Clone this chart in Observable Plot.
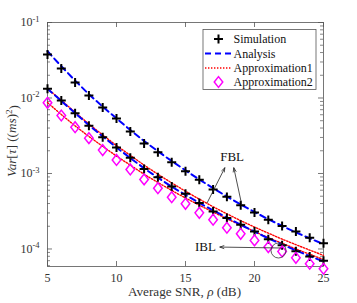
<!DOCTYPE html>
<html><head><meta charset="utf-8">
<script src="https://cdn.jsdelivr.net/npm/d3@7"></script>
<script src="https://cdn.jsdelivr.net/npm/@observablehq/plot@0.6"></script>
<style>body{margin:0;background:#fff}#chart svg{display:block}</style>
</head><body><div id="chart"></div>
<script>
// ---------- data ----------
const snr = [5,6,7,8,9,10,11,12,13,14,15,16,17,18,19,20,21,22,23,24,25];
const fblSim = [3.77e-2,2.46e-2,1.60e-2,1.08e-2,7.48e-3,5.35e-3,3.60e-3,2.49e-3,1.91e-3,1.41e-3,1.07e-3,8.26e-4,6.14e-4,4.90e-4,3.80e-4,3.05e-4,2.43e-4,2.02e-4,1.70e-4,1.41e-4,1.19e-4];
const fblAnalysis = [4.17e-2,2.63e-2,1.70e-2,1.12e-2,7.67e-3,5.37e-3,3.76e-3,2.69e-3,1.97e-3,1.46e-3,1.10e-3,8.32e-4,6.38e-4,4.95e-4,3.89e-4,3.09e-4,2.48e-4,2.02e-4,1.66e-4,1.38e-4,1.16e-4];
const iblSim = [1.324e-2,9.27e-3,6.30e-3,4.29e-3,3.03e-3,2.21e-3,1.62e-3,1.15e-3,8.93e-4,6.73e-4,5.38e-4,4.07e-4,3.14e-4,2.57e-4,2.09e-4,1.71e-4,1.35e-4,1.12e-4,9.33e-5,7.96e-5,7.00e-5];
const iblAnalysis = [1.33e-2,9.12e-3,6.31e-3,4.37e-3,3.09e-3,2.21e-3,1.60e-3,1.17e-3,8.81e-4,6.68e-4,5.19e-4,4.07e-4,3.24e-4,2.60e-4,2.09e-4,1.70e-4,1.38e-4,1.15e-4,9.55e-5,8.04e-5,6.84e-5];
const approx1Upper = [1.33e-2,9.33e-3,6.46e-3,4.52e-3,3.24e-3,2.34e-3,1.74e-3,1.29e-3,9.77e-4,7.50e-4,5.82e-4,4.57e-4,3.63e-4,2.92e-4,2.37e-4,1.95e-4,1.62e-4,1.35e-4,1.14e-4,9.66e-5,8.22e-5];
const approx1Lower = [8.71e-3,6.03e-3,4.27e-3,3.09e-3,2.29e-3,1.70e-3,1.29e-3,9.77e-4,7.59e-4,5.96e-4,4.73e-4,3.80e-4,3.09e-4,2.51e-4,2.07e-4,1.70e-4,1.41e-4,1.19e-4,1.00e-4,8.51e-5,7.24e-5];
const approx2 = [8.63e-3,5.86e-3,4.10e-3,2.94e-3,2.04e-3,1.51e-3,1.13e-3,8.34e-4,6.38e-4,4.85e-4,3.97e-4,3.01e-4,2.44e-4,1.91e-4,1.59e-4,1.30e-4,1.06e-4,9.27e-5,7.64e-5,6.37e-5,5.47e-5];

const xTicks = [5,10,15,20,25];
const yMajor = [1e-4,1e-3,1e-2,1e-1];
const yMinor = [6e-5,7e-5,8e-5,9e-5,2e-4,3e-4,4e-4,5e-4,6e-4,7e-4,8e-4,9e-4,2e-3,3e-3,4e-3,5e-3,6e-3,7e-3,8e-3,9e-3,2e-2,3e-2,4e-2,5e-2,6e-2,7e-2,8e-2,9e-2];
const legendLabels = ["Simulation","Analysis","Approximation1","Approximation2"];

// annotations (data coordinates)
const fblLabel = [{x:18.38, y:1.68e-3, t:"FBL"}];
const fblArrows = [{x1:16.57,y1:4.09e-4,x2:17.85,y2:1.19e-3},{x1:19.06,y1:3.97e-4,x2:18.5,y2:1.19e-3}];
const iblLabel = [{x:16.45, y:1.06e-4, t:"IBL"}];
const iblArrows = [{x1:21.88,y1:1.03e-4,x2:17.49,y2:1.06e-4}];
const iblCircle = [{x:21.74, y:9.55e-5}];

// ---------- helpers ----------
const rows = arr => snr.map((s,i)=>({snr:s, v:arr[i]}));
const tallDiamond = {draw(ctx,size){const r=Math.sqrt(size/Math.PI);ctx.moveTo(0,-1.2*r);ctx.lineTo(0.95*r,0);ctx.lineTo(0,1.2*r);ctx.lineTo(-0.95*r,0);ctx.closePath();}};
const W=357,H=303,ML=47,MR=34,MT=22,MB=37;
const PW=W-ML-MR, PH=H-MT-MB;
const axisCol="#333", frameCol="#555";
const blue="#0000ff", red="#ff0000", mag="#ff00ff";
const dashed="6,4", dotted="1.4,1.6";

const plot = Plot.plot({
  width:W, height:H, marginLeft:ML, marginRight:MR, marginTop:MT, marginBottom:MB,
  style:{fontFamily:'"Liberation Serif","Times New Roman",serif', fontSize:"12px", color:axisCol, background:"#fff"},
  x:{domain:[5,25], label:null},
  y:{type:"log", domain:[5.86e-5,0.1], label:null},
  marks:[
    Plot.frame({stroke:frameCol, strokeWidth:0.8}),
    Plot.tickY(yMinor,{y:d=>d, insetRight:PW-3, stroke:frameCol, strokeWidth:0.7}),
    Plot.tickY(yMinor,{y:d=>d, insetLeft:PW-3, stroke:frameCol, strokeWidth:0.7}),
    Plot.tickY(yMajor,{y:d=>d, insetRight:PW-5, stroke:frameCol, strokeWidth:0.8}),
    Plot.tickY(yMajor,{y:d=>d, insetLeft:PW-5, stroke:frameCol, strokeWidth:0.8}),
    Plot.tickX(xTicks,{x:d=>d, insetTop:PH-5, stroke:frameCol, strokeWidth:0.8}),
    Plot.tickX(xTicks,{x:d=>d, insetBottom:PH-5, stroke:frameCol, strokeWidth:0.8}),
    Plot.axisY(yMajor,{tickSize:0, tickPadding:8, tickFormat:d=>"10^"+Math.round(Math.log10(d)), fontSize:12, label:null}),
    Plot.axisX(xTicks,{tickSize:0, tickPadding:7, tickFormat:d=>String(d), fontSize:12, label:null}),
    Plot.line(rows(approx1Upper),{x:"snr",y:"v",stroke:red,strokeWidth:1.4,strokeDasharray:dotted}),
    Plot.line(rows(approx1Lower),{x:"snr",y:"v",stroke:red,strokeWidth:1.4,strokeDasharray:dotted}),
    Plot.line(rows(fblAnalysis),{x:"snr",y:"v",stroke:blue,strokeWidth:2,strokeDasharray:dashed}),
    Plot.line(rows(iblAnalysis),{x:"snr",y:"v",stroke:blue,strokeWidth:2,strokeDasharray:dashed}),
    Plot.dot(rows(fblSim),{x:"snr",y:"v",symbol:"plus",r:3,stroke:"#000",strokeWidth:2}),
    Plot.dot(rows(iblSim),{x:"snr",y:"v",symbol:"plus",r:3,stroke:"#000",strokeWidth:2}),
    Plot.dot(rows(approx2),{x:"snr",y:"v",symbol:tallDiamond,r:4.5,stroke:mag,strokeWidth:1.5,fill:"none"}),
    Plot.arrow(fblArrows,{x1:"x1",y1:"y1",x2:"x2",y2:"y2",stroke:"#222",strokeWidth:0.8,headLength:8,headAngle:40}),
    Plot.arrow(iblArrows,{x1:"x1",y1:"y1",x2:"x2",y2:"y2",stroke:"#222",strokeWidth:0.8,headLength:8,headAngle:40}),
    Plot.dot(iblCircle,{x:"x",y:"y",r:7.5,stroke:"#333",strokeWidth:0.8,fill:"none"}),
    Plot.text(fblLabel,{x:"x",y:"y",text:"t",fontSize:13,fill:"#111"}),
    Plot.text(iblLabel,{x:"x",y:"y",text:"t",fontSize:13,fill:"#111"})
  ]
});
document.getElementById("chart").appendChild(plot);
const svg = d3.select(plot);

// superscript exponents on y tick labels
svg.selectAll('g[aria-label="y-axis tick label"] text').each(function(){
  const s=this.textContent; if(!s.includes("^")) return;
  const [b,e]=s.split("^");
  const t=d3.select(this); t.text(null);
  t.append("tspan").text(b);
  t.append("tspan").attr("dy","-0.55em").attr("font-size","8.5px").text(e);
});

const ff='"Liberation Serif","Times New Roman",serif';
// x label
const xl = svg.append("text").attr("x",184.5).attr("y",296).attr("text-anchor","middle")
  .attr("font-family",ff).attr("font-size","13.2px").attr("fill",axisCol);
xl.append("tspan").text("Average SNR, ");
xl.append("tspan").attr("font-style","italic").text("ρ");
xl.append("tspan").text(" (dB)");
// y label
const yl = svg.append("text").attr("transform","translate(16,141) rotate(-90)").attr("text-anchor","middle")
  .attr("font-family",ff).attr("font-size","13.2px").attr("fill",axisCol);
yl.append("tspan").attr("font-style","italic").text("Var");
yl.append("tspan").text("[");
yl.append("tspan").attr("font-style","italic").text("τ");
yl.append("tspan").text("] ((");
yl.append("tspan").attr("font-style","italic").text("ms");
yl.append("tspan").text(")");
yl.append("tspan").attr("dy","-0.5em").attr("font-size","9px").text("2");
yl.append("tspan").attr("dy","0.5em").text(")");

// legend
const lg = svg.append("g").attr("font-family",ff).attr("font-size","12px").attr("text-anchor","start");
lg.append("rect").attr("x",203).attr("y",29.5).attr("width",113).attr("height",60)
  .attr("fill","#fff").attr("stroke",frameCol).attr("stroke-width",0.8);
const rowsY=[39,53.5,68,82];
const symPlus=d3.symbol(d3.symbolPlus, Math.PI*9)();
const symDia=d3.symbol(tallDiamond, Math.PI*4.5*4.5)();
lg.append("path").attr("d",symPlus).attr("transform",`translate(218.5,${rowsY[0]})`).attr("stroke","#000").attr("stroke-width",2).attr("fill","none");
lg.append("line").attr("x1",205).attr("x2",232).attr("y1",rowsY[1]).attr("y2",rowsY[1]).attr("stroke",blue).attr("stroke-width",2).attr("stroke-dasharray",dashed);
lg.append("line").attr("x1",205).attr("x2",232).attr("y1",rowsY[2]).attr("y2",rowsY[2]).attr("stroke",red).attr("stroke-width",1.4).attr("stroke-dasharray",dotted);
lg.append("path").attr("d",symDia).attr("transform",`translate(218.5,${rowsY[3]})`).attr("stroke",mag).attr("stroke-width",1.5).attr("fill","none");
legendLabels.forEach((l,i)=>lg.append("text").attr("x",233.5).attr("y",rowsY[i]+4).attr("fill","#111").attr("text-anchor","start").text(l));
</script></body></html>
